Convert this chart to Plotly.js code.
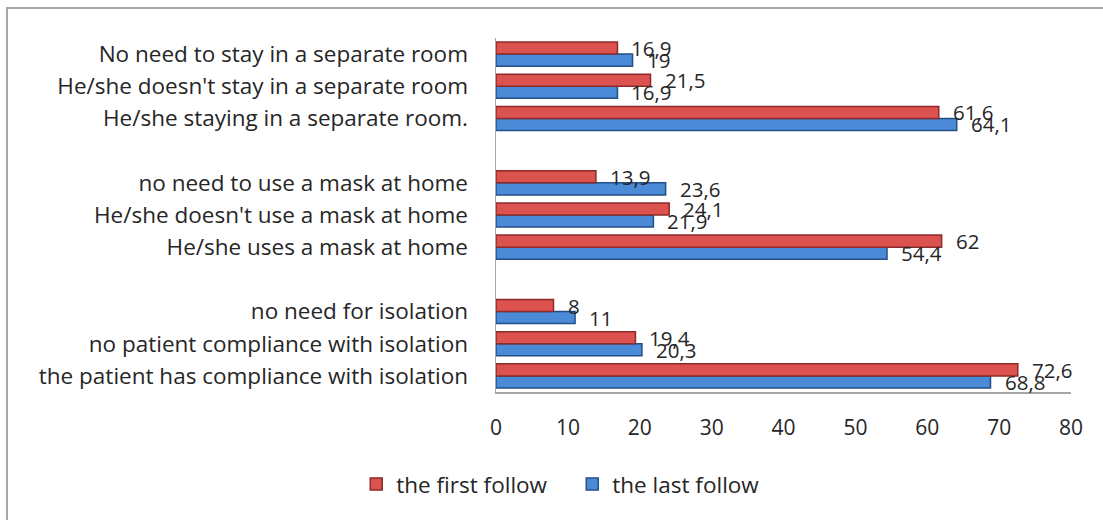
<!DOCTYPE html>
<html><head><meta charset="utf-8">
<script src="https://cdn.plot.ly/plotly-3.0.1.min.js"></script>
<style>
html,body{margin:0;padding:0;background:#fff;}
#frame{position:absolute;left:6px;top:7px;width:1100px;height:520px;border-left:2px solid #a6a6a6;border-top:2px solid #a6a6a6;pointer-events:none;}
#chart{position:absolute;left:0;top:0;width:1103px;height:520px;}
</style>
</head><body>
<div id="chart"></div>
<div id="frame"></div>
<script>
// Groups listed bottom to top, categories within each group bottom to top
const groupIsolation = ["the patient has compliance with isolation", "no patient compliance with isolation", "no need for isolation"];
const groupMask = ["He/she uses a mask at home", "He/she doesn't use a mask at home", "no need to use a mask at home"];
const groupRoom = ["He/she staying in a separate room.", "He/she doesn't stay in a separate room", "No need to stay in a separate room"];

const firstFollow = [72.6, 19.4, 8, 62, 24.1, 13.9, 61.6, 21.5, 16.9];
const lastFollow  = [68.8, 20.3, 11, 54.4, 21.9, 23.6, 64.1, 16.9, 19];

const xTicks = [0, 10, 20, 30, 40, 50, 60, 70, 80];

const groups = [groupIsolation, groupMask, groupRoom];
const yPos = [], yLabels = [];
groups.forEach((g, gi) => g.forEach((c, ci) => { yPos.push(gi * 4 + ci); yLabels.push(c); }));

const fmt = v => String(v).replace('.', ',');
const FONT = '"Open Sans", sans-serif';
const txtFont = {family: FONT, size: 20.5, color: '#262626'};

const BARGAP = 0.25;
const half = (1 - BARGAP) / 4; // offset of each bar centre inside its slot

const traces = [
  {type: 'bar', orientation: 'h', name: 'the last follow', x: lastFollow, y: yPos,
   marker: {color: '#4a8ad6', line: {color: '#244f86', width: 1.5}}},
  {type: 'bar', orientation: 'h', name: 'the first follow', x: firstFollow, y: yPos,
   marker: {color: '#dc524e', line: {color: '#8c2b29', width: 1.5}}}
];

const annotations = [];
yPos.forEach((p, i) => {
  annotations.push({x: firstFollow[i], y: p + half, xref: 'x', yref: 'y', text: fmt(firstFollow[i]),
    showarrow: false, xanchor: 'left', yanchor: 'middle', xshift: 12, font: txtFont});
  annotations.push({x: lastFollow[i], y: p - half, xref: 'x', yref: 'y', text: fmt(lastFollow[i]),
    showarrow: false, xanchor: 'left', yanchor: 'middle', xshift: 12, font: txtFont});
});

const layout = {
  width: 1103, height: 520,
  margin: {l: 496, r: 32, t: 38, b: 128},
  paper_bgcolor: '#ffffff', plot_bgcolor: '#ffffff',
  barmode: 'group', bargap: BARGAP, bargroupgap: 0,
  showlegend: true,
  annotations: annotations,
  legend: {orientation: 'h', x: -0.243, xanchor: 'left', y: -0.2, yanchor: 'top',
           traceorder: 'reversed', font: {family: FONT, size: 22.5, color: '#262626'},
           itemwidth: 30, tracegroupgap: 0, entrywidth: 171, entrywidthmode: 'pixels'},
  xaxis: {range: [0, 80], tickvals: xTicks, ticktext: xTicks.map(String), showgrid: false, zeroline: false,
          showline: true, linecolor: '#a6a6a6', linewidth: 1.5, ticks: '', ticklen: 0, ticklabelstandoff: 16,
          tickfont: {family: FONT, size: 21, color: '#262626'}},
  yaxis: {range: [-0.5, 10.5], tickvals: yPos, ticktext: yLabels, showgrid: false, zeroline: false,
          showline: true, linecolor: '#a6a6a6', linewidth: 1.5, ticks: '', ticklen: 0, ticklabelstandoff: 22,
          tickfont: {family: FONT, size: 22.5, color: '#262626'}}
};

Plotly.newPlot('chart', traces, layout, {displayModeBar: false, staticPlot: true});
</script>
</body></html>
